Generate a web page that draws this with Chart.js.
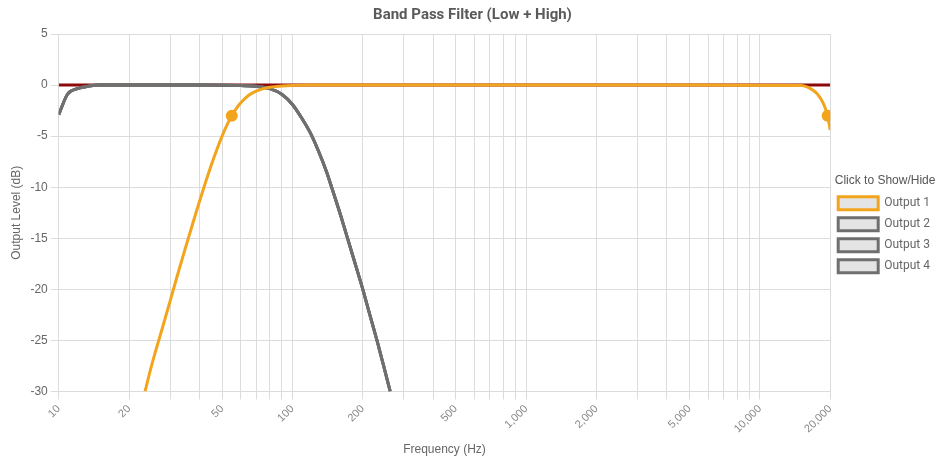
<!DOCTYPE html>
<html>
<head>
<meta charset="utf-8">
<script src="https://cdn.jsdelivr.net/npm/chart.js@4.4.1/dist/chart.umd.min.js"></script>
<style>
  html, body { margin: 0; padding: 0; background: #fff; }
  #wrap { width: 940px; height: 461px; }
</style>
</head>
<body>
<div id="wrap"><canvas id="c" width="940" height="461"></canvas></div>
<script>
// ---- Data ----
const seriesNames = ['Output 1', 'Output 2', 'Output 3', 'Output 4'];

const out1Freq = [23.4, 25, 27.5, 30, 32.5, 35, 37.5, 40, 42.5, 45, 47.5, 50, 52.5, 55, 57.5, 60, 65, 70, 75, 80, 90, 100, 120, 500, 5000, 15000, 16000, 17000, 17500, 18000, 18500, 19000, 19500, 20000];
const out1Db   = [-30, -27.4, -24.1, -21.1, -18.3, -15.8, -13.5, -11.4, -9.5, -7.8, -6.3, -5.0, -3.9, -3.0, -2.3, -1.76, -1.0, -0.6, -0.35, -0.21, -0.08, -0.03, 0, 0, 0, -0.05, -0.2, -0.55, -0.8, -1.15, -1.6, -2.2, -3.0, -4.4];
const out1MarkerFreq = [55, 19500];

const out2Freq = [10, 10.9, 12, 13.5, 15, 20, 30, 40, 50, 60, 70, 80, 90, 100, 110, 120, 130, 140, 150, 160, 170, 185, 200, 215, 230, 245, 262];
const out2Db   = [-2.9, -0.9, -0.35, -0.1, 0, 0, 0, 0, -0.02, -0.05, -0.12, -0.35, -0.9, -1.9, -3.3, -4.8, -6.6, -8.5, -10.6, -12.6, -14.6, -17.4, -20.0, -22.6, -25.0, -27.4, -30];

const out3Freq = out2Freq;
const out3Db   = out2Db;
const out4Freq = out2Freq;
const out4Db   = out2Db;

const refFreq = [10, 20000];
const refDb   = [0, 0];

const xMin = 10, xMax = 20000;
const xTickValues = [10, 20, 30, 40, 50, 60, 70, 80, 90,
                     100, 200, 300, 400, 500, 600, 700, 800, 900,
                     1000, 2000, 3000, 4000, 5000, 6000, 7000, 8000, 9000,
                     10000, 20000];
const xTickLabels = [10, 20, 50, 100, 200, 500, 1000, 2000, 5000, 10000, 20000];
const yMin = -30, yMax = 5, yStep = 5;

// ---- Build datasets ----
function pts(fs, ds) { return fs.map((f, i) => ({ x: f, y: ds[i] })); }

const ORANGE = '#f2a51c';
const GRAY = '#6f6f6f';
const BOXFILL = '#e4e4e4';

function lineSet(label, fs, ds, color) {
  return {
    label, data: pts(fs, ds),
    borderColor: color, backgroundColor: BOXFILL, borderWidth: 3, pointRadius: 0,
    cubicInterpolationMode: 'monotone', fill: false
  };
}

const d1 = lineSet(seriesNames[0], out1Freq, out1Db, ORANGE);
d1.pointRadius = out1Freq.map(f => out1MarkerFreq.includes(f) ? 4.5 : 0);
d1.pointBackgroundColor = ORANGE;
d1.pointBorderColor = ORANGE;

const datasets = [
  d1,
  lineSet(seriesNames[1], out2Freq, out2Db, GRAY),
  lineSet(seriesNames[2], out3Freq, out3Db, GRAY),
  lineSet(seriesNames[3], out4Freq, out4Db, GRAY),
  {
    label: '', data: pts(refFreq, refDb),
    borderColor: '#8e0a0a', backgroundColor: '#8e0a0a', borderWidth: 3, pointRadius: 0,
    fill: false
  }
];

new Chart(document.getElementById('c'), {
  type: 'line',
  data: { datasets },
  options: {
    responsive: false,
    animation: false,
    layout: { padding: { left: 5, right: 0, top: 0, bottom: 0 } },
    plugins: {
      title: {
        display: true,
        text: 'Band Pass Filter (Low + High)',
        color: '#5a5a5a',
        font: { family: 'Roboto', size: 15, weight: 'bold' },
        padding: { top: 6, bottom: 10 }
      },
      legend: {
        position: 'right',
        title: {
          display: true, text: 'Click to Show/Hide', color: '#555',
          font: { family: 'Liberation Sans', size: 12 }, padding: { top: -6, bottom: 0 }
        },
        labels: {
          boxWidth: 40, boxHeight: 13, color: '#666', padding: 8,
          font: { family: 'Roboto', size: 12 },
          filter: (item) => item.text !== ''
        }
      },
      tooltip: { enabled: false }
    },
    scales: {
      x: {
        type: 'logarithmic', min: xMin, max: xMax,
        afterBuildTicks: (axis) => { axis.ticks = xTickValues.map(v => ({ value: v })); },
        title: { display: true, text: 'Frequency (Hz)', color: '#666', font: { family: 'Liberation Sans', size: 12 }, padding: { top: 4 } },
        grid: { color: '#dcdcdc', tickLength: 8 },
        border: { color: '#dcdcdc' },
        ticks: {
          autoSkip: false, minRotation: 45, maxRotation: 45, color: '#888',
          font: { family: 'Liberation Sans', size: 11 },
          callback: (v) => xTickLabels.includes(v) ? v.toLocaleString('en-US') : ''
        }
      },
      y: {
        min: yMin, max: yMax,
        title: { display: true, text: 'Output Level (dB)', color: '#666', font: { family: 'Liberation Sans', size: 12 } },
        grid: { color: '#dcdcdc', tickLength: 8 },
        border: { color: '#dcdcdc' },
        ticks: { stepSize: yStep, color: '#666', font: { family: 'Liberation Sans', size: 12 } }
      }
    }
  }
});
</script>
</body>
</html>
